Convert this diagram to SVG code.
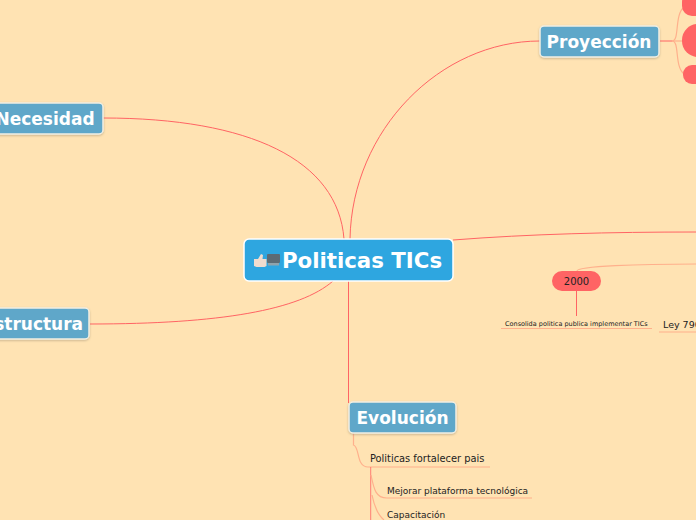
<svg xmlns="http://www.w3.org/2000/svg" width="696" height="520" viewBox="0 0 696 520">
<defs>
<filter id="sh" x="-10%" y="-20%" width="120%" height="140%"><feDropShadow dx="0" dy="1" stdDeviation="1.2" flood-color="#8a7a60" flood-opacity="0.45"/></filter>
</defs>
<style>
.c{fill:none;stroke:#ff6464;stroke-width:1}
.l{fill:none;stroke:#ffb08c;stroke-width:1.2}
.m{fill:#5ea7c9;stroke:#f4f0e2;stroke-width:1.5;filter:url(#sh)}
.mt{font:bold 17px "DejaVu Sans",sans-serif;fill:#fff;text-anchor:middle}
.t{font-family:"DejaVu Sans",sans-serif;fill:#222}
.r{fill:#ff6464}
</style>
<rect width="696" height="520" fill="#ffe3b3"/>
<g id="connectors">
<path class="c" d="M344 239C338 160 250 118 103 118"/>
<path class="c" d="M350 239C352 130 440 41 540 41"/>
<path class="c" d="M453 240C530 234 610 232 696 232"/>
<path class="c" d="M333 281C300 310 220 324 90 324"/>
<path class="c" d="M348.500 281V403"/>
<path class="c" d="M660 41H672"/>
<path class="l" d="M672 41C680 41 674 15 684 7"/>
<path class="l" d="M672 41H684"/>
<path class="l" d="M672 41C680 41 674 66 684 74"/>
<path class="l" d="M577 271C577 266 640 264 696 264"/>
<path class="c" d="M576.500 291V316"/>
<path class="l" d="M501 328.500H652"/>
<path class="l" d="M659 332H696"/>
<path class="l" d="M353.500 433V445C360 447 356 467 368 467H490"/>
<path class="c" d="M370.700 467V520" stroke-opacity="0.8" stroke-width="1.5"/>
<path class="l" d="M371 475C374 490 376 498 387 498H532"/>
<path class="l" d="M372 495C374 505 378 515 384 520"/>
</g>
<g id="root"><rect x="244" y="239" width="209" height="42" rx="5" fill="#2ea6e0" stroke="#fff" stroke-width="1.5"/>
<path d="M254 259h4l3-5 2 1-.5 4h4v7l-2 1h-8l-2.500-1z" fill="#f0dccf"/><rect x="267" y="254" width="13" height="9" rx="1" fill="#5c6b75"/><rect x="268" y="263" width="11" height="2.500" fill="#8fa3ad"/>
<text x="362" y="268" font-family="DejaVu Sans,sans-serif" font-weight="bold" font-size="21.300" fill="#fff" text-anchor="middle">Politicas TICs</text></g>
<g id="necesidad"><rect x="-20" y="103" width="123" height="31" rx="4" class="m"/><text x="45" y="125" class="mt">Necesidad</text></g>
<g id="infraestructura"><rect x="-60" y="308" width="149" height="31" rx="4" class="m"/><text x="10" y="330" class="mt">Infraestructura</text></g>
<g id="proyeccion"><rect x="540" y="26" width="119" height="31" rx="4" class="m"/><text x="599" y="48" class="mt">Proyección</text></g>
<g id="evolucion"><rect x="349" y="402" width="107" height="31" rx="4" class="m"/><text x="402.500" y="424" class="mt">Evolución</text></g>
<g id="p1"><rect x="682" y="-8" width="30" height="24" rx="10" class="r"/></g>
<g id="p2"><rect x="682" y="24" width="40" height="33" rx="16" class="r"/></g>
<g id="p3"><rect x="683" y="65" width="30" height="19" rx="9" class="r"/></g>
<g id="y2000"><rect x="552" y="271" width="49" height="20" rx="10" class="r"/><text x="576.500" y="285" class="t" font-size="10" text-anchor="middle">2000</text></g>
<g id="consolida"><text x="505" y="325.500" class="t" font-size="6.500">Consolida politica publica implementar TICs</text></g>
<g id="ley"><text x="663" y="327.500" class="t" font-size="9.500">Ley 790</text></g>
<g id="fortalecer"><text x="370" y="462" class="t" font-size="9.850">Politicas fortalecer pais</text></g>
<g id="mejorar"><text x="387" y="494" class="t" font-size="9">Mejorar plataforma tecnológica</text></g>
<g id="capacitacion"><text x="387" y="518" class="t" font-size="9">Capacitación</text></g>
</svg>
